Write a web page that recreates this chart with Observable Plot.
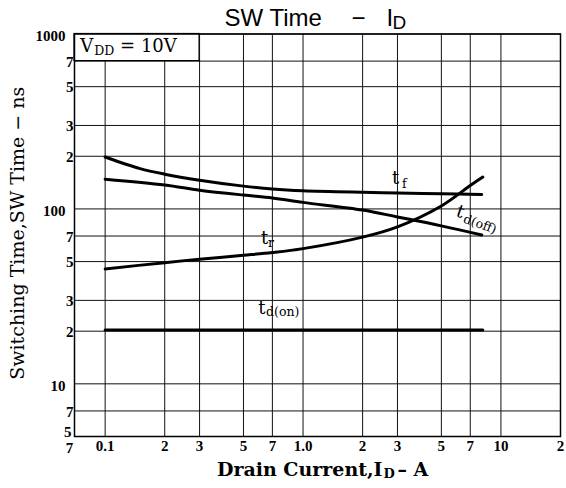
<!DOCTYPE html>
<html><head><meta charset="utf-8">
<script src="https://cdn.jsdelivr.net/npm/d3@7"></script>
<script src="https://cdn.jsdelivr.net/npm/@observablehq/plot@0.6"></script>
<style>body{margin:0;background:#fff}</style>
</head><body><div id="chart"></div>
<script>
// ---- data ----
const xTicks = [0.07, 0.1, 0.2, 0.3, 0.5, 0.7, 1, 2, 3, 5, 7, 10, 20];
const xTickLabels = ["7", "0.1", "2", "3", "5", "7", "1.0", "2", "3", "5", "7", "10", "2"];
const yTicks = [5, 7, 10, 20, 30, 50, 70, 100, 200, 300, 500, 700, 1000];
const yTickLabels = ["5", "7", "10", "2", "3", "5", "7", "100", "2", "3", "5", "7", "1000"];

const idF = [0.1, 0.15, 0.2, 0.3, 0.5, 0.7, 1, 2, 3, 5, 8];
const tF = [198, 170, 158, 146, 135, 130, 127, 124.5, 123.5, 122, 121];
const idOff = [0.1, 0.2, 0.3, 0.5, 0.7, 1, 2, 3, 5, 8];
const tdOff = [148, 137, 128, 120, 115.6, 109, 98.6, 90, 80, 71];
const idR = [0.1, 0.2, 0.3, 0.5, 0.7, 1, 2, 3, 5, 7, 8.1];
const tR = [45.4, 49.3, 51.6, 54.3, 56.3, 59.3, 69, 79, 104, 136, 152];
const idOn = [0.1, 8.1];
const tdOn = [20.3, 20.3];

// curve labels: main letter and subscript, placed in data coordinates (ID, ns)
const labelMain = [
  {x: 2.815, y: 149.6, text: "t", rotate: 0},
  {x: 0.614, y: 67.8, text: "t", rotate: 0},
  {x: 0.593, y: 27.0, text: "t", rotate: 0},
  {x: 6.0, y: 98, text: "t", rotate: 20}
];
const labelSub = [
  {x: 3.162, y: 138, text: "f", rotate: 0},
  {x: 0.665, y: 63.5, text: "r", rotate: 0},
  {x: 0.650, y: 25.6, text: "d(on)", rotate: 0},
  {x: 6.5, y: 88.3, text: "d(off)", rotate: 20}
];
const condition = {x1: 0.07, x2: 0.3, y1: 700, y2: 1000};

// ---- build ----
const serif = "DejaVu Serif";
const sans = "Liberation Sans";
const narrow = "Liberation Sans Narrow";
const pts = (xs, ys) => xs.map((x, i) => ({x, y: ys[i]}));
const series = [pts(idF, tF), pts(idOff, tdOff), pts(idR, tR), pts(idOn, tdOn)];
const xLab = new Map(xTicks.map((d, i) => [d, xTickLabels[i]]));
const yLab = new Map(yTicks.map((d, i) => [d, yTickLabels[i]]));
const tickStyle = {fontFamily: narrow, fontSize: 15, fontWeight: "bold", fill: "#000", lineAnchor: "middle"};
const yMin = yTicks[0];

const chart = Plot.plot({
  width: 566,
  height: 488,
  marginLeft: 74,
  marginRight: 6,
  marginTop: 33.5,
  marginBottom: 52,
  style: {background: "white", fontFamily: sans, overflow: "visible"},
  x: {type: "log", domain: [0.07, 20], axis: null},
  y: {type: "log", domain: [5, 1000], axis: null},
  marks: [
    Plot.ruleX(xTicks, {x: d => d, stroke: "#111", strokeWidth: 1}),
    Plot.ruleY(yTicks, {y: d => d, stroke: "#111", strokeWidth: 1}),
    Plot.rect([condition], {x1: "x1", x2: "x2", y1: "y1", y2: "y2", fill: "white", stroke: "#000", strokeWidth: 1.2}),
    ...series.map(s => Plot.line(s, {x: "x", y: "y", stroke: "#000", strokeWidth: 3, curve: "catmull-rom"})),
    Plot.frame({stroke: "#000", strokeWidth: 1.5}),
    // tick labels
    Plot.text(xTicks.slice(0, 1), {x: d => d, frameAnchor: "bottom", dx: -5, dy: 12, text: d => xLab.get(d), ...tickStyle}),
    Plot.text(xTicks.slice(1), {x: d => d, frameAnchor: "bottom", dy: 10, text: d => xLab.get(d), ...tickStyle}),
    Plot.text([yMin], {y: d => d, frameAnchor: "left", dx: -3, dy: -4, textAnchor: "end", text: d => yLab.get(d), ...tickStyle}),
    Plot.text(yTicks.filter(d => d !== yMin && yLab.get(d).length === 1), {y: d => d, frameAnchor: "left", dx: -1, dy: 1, textAnchor: "end", text: d => yLab.get(d), ...tickStyle}),
    Plot.text(yTicks.filter(d => yLab.get(d).length > 1), {y: d => d, frameAnchor: "left", dx: -9, dy: 2, textAnchor: "end", text: d => yLab.get(d), ...tickStyle}),
    // curve labels
    Plot.text(labelMain, {x: "x", y: "y", text: "text", rotate: "rotate", textAnchor: "start", lineAnchor: "middle", fontFamily: serif, fontSize: 18, fill: "#000"}),
    Plot.text(labelSub, {x: "x", y: "y", text: "text", rotate: "rotate", textAnchor: "start", lineAnchor: "middle", fontFamily: serif, fontSize: 12.5, fill: "#000"}),
    // condition text
    Plot.text(["V"], {x: 0.0748, y: 848, text: d => d, textAnchor: "start", lineAnchor: "middle", fontFamily: serif, fontSize: 18, fill: "#000"}),
    Plot.text(["DD"], {x: 0.088, y: 800, text: d => d, textAnchor: "start", lineAnchor: "middle", fontFamily: serif, fontSize: 12.5, fill: "#000"}),
    Plot.text(["= 10V"], {x: 0.119, y: 848, text: d => d, textAnchor: "start", lineAnchor: "middle", fontFamily: serif, fontSize: 18, fill: "#000"}),
    // title
    Plot.text(["SW Time"], {frameAnchor: "top-left", dx: 150, dy: -16, text: d => d, textAnchor: "start", lineAnchor: "middle", fontFamily: sans, fontSize: 24, fill: "#000"}),
    Plot.text(["\u2212"], {frameAnchor: "top-left", dx: 277, dy: -16, text: d => d, textAnchor: "start", lineAnchor: "middle", fontFamily: sans, fontSize: 24, fill: "#000"}),
    Plot.text(["I"], {frameAnchor: "top-left", dx: 312, dy: -16, text: d => d, textAnchor: "start", lineAnchor: "middle", fontFamily: sans, fontSize: 24, fill: "#000"}),
    Plot.text(["D"], {frameAnchor: "top-left", dx: 318, dy: -11, text: d => d, textAnchor: "start", lineAnchor: "middle", fontFamily: sans, fontSize: 19, fill: "#000"}),
    // x axis title
    Plot.text(["Drain Current,I"], {frameAnchor: "bottom-left", dx: 308, dy: 33, text: d => d, textAnchor: "end", lineAnchor: "middle", fontFamily: serif, fontWeight: "bold", fontSize: 19, fill: "#000"}),
    Plot.text(["D"], {frameAnchor: "bottom-left", dx: 309, dy: 37, text: d => d, textAnchor: "start", lineAnchor: "middle", fontFamily: serif, fontWeight: "bold", fontSize: 13, fill: "#000"}),
    Plot.text(["\u2013 A"], {frameAnchor: "bottom-left", dx: 323, dy: 33, text: d => d, textAnchor: "start", lineAnchor: "middle", fontFamily: serif, fontWeight: "bold", fontSize: 19, fill: "#000"}),
    // y axis title
    Plot.text(["Switching Time,SW Time \u2212 ns"], {frameAnchor: "left", dx: -57, dy: -2, rotate: -90, text: d => d, textAnchor: "middle", lineAnchor: "middle", fontFamily: serif, fontSize: 19, fill: "#000"})
  ]
});
document.getElementById("chart").appendChild(chart);
</script></body></html>
